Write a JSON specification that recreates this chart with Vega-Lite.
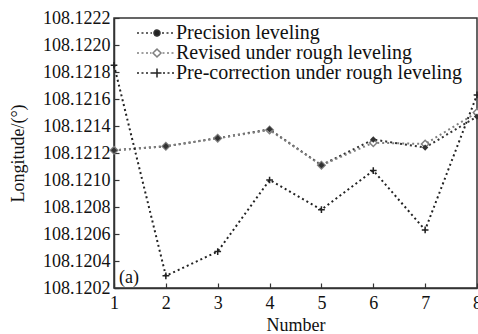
{
  "$schema": "https://vega.github.io/schema/vega-lite/v6.json",
  "width": 363,
  "height": 270,
  "autosize": "none",
  "padding": {"left": 114, "top": 18, "right": 1, "bottom": 46},
  "background": "white",
  "title": {"text": "(a)", "orient": "top", "anchor": "start", "frame": "group", "align": "left", "baseline": "middle", "offset": 0, "dx": 5, "dy": 287, "font": "Liberation Serif", "fontSize": 18, "fontWeight": "normal", "color": "#111"},
  "data": {"values": [
    {"number": 1, "series": "Precision leveling", "value": 108.12122},
    {"number": 2, "series": "Precision leveling", "value": 108.12125},
    {"number": 3, "series": "Precision leveling", "value": 108.12131},
    {"number": 4, "series": "Precision leveling", "value": 108.121375},
    {"number": 5, "series": "Precision leveling", "value": 108.12111},
    {"number": 6, "series": "Precision leveling", "value": 108.12130},
    {"number": 7, "series": "Precision leveling", "value": 108.12124},
    {"number": 8, "series": "Precision leveling", "value": 108.12147},
    {"number": 1, "series": "Revised under rough leveling", "value": 108.12122},
    {"number": 2, "series": "Revised under rough leveling", "value": 108.12125},
    {"number": 3, "series": "Revised under rough leveling", "value": 108.12131},
    {"number": 4, "series": "Revised under rough leveling", "value": 108.12137},
    {"number": 5, "series": "Revised under rough leveling", "value": 108.12111},
    {"number": 6, "series": "Revised under rough leveling", "value": 108.121276},
    {"number": 7, "series": "Revised under rough leveling", "value": 108.121267},
    {"number": 8, "series": "Revised under rough leveling", "value": 108.1215},
    {"number": 1, "series": "Pre-correction under rough leveling", "value": 108.12185},
    {"number": 2, "series": "Pre-correction under rough leveling", "value": 108.12029},
    {"number": 3, "series": "Pre-correction under rough leveling", "value": 108.12047},
    {"number": 4, "series": "Pre-correction under rough leveling", "value": 108.12100},
    {"number": 5, "series": "Pre-correction under rough leveling", "value": 108.12078},
    {"number": 6, "series": "Pre-correction under rough leveling", "value": 108.12107},
    {"number": 7, "series": "Pre-correction under rough leveling", "value": 108.12063},
    {"number": 8, "series": "Pre-correction under rough leveling", "value": 108.12163}
  ]},
  "encoding": {
    "x": {
      "field": "number", "type": "quantitative",
      "scale": {"domain": [1, 8], "nice": false, "zero": false},
      "axis": {"values": [1, 2, 3, 4, 5, 6, 7, 8], "format": "d", "title": "Number", "tickSize": -5, "labelPadding": 11, "titlePadding": 4, "labelFlush": false, "labelOverlap": false}
    },
    "y": {
      "field": "value", "type": "quantitative",
      "scale": {"domain": [108.1202, 108.1222], "nice": false, "zero": false},
      "axis": {"values": [108.1202, 108.1204, 108.1206, 108.1208, 108.121, 108.1212, 108.1214, 108.1216, 108.1218, 108.122, 108.1222], "format": ".4f", "title": "Longitude/(°)", "tickSize": -5, "labelPadding": 9, "titlePadding": 15, "labelOverlap": false}
    }
  },
  "layer": [
    {
      "mark": {"type": "line", "strokeDash": [2, 3], "strokeWidth": 2},
      "encoding": {
        "color": {
          "field": "series", "type": "nominal",
          "scale": {"domain": ["Precision leveling", "Revised under rough leveling", "Pre-correction under rough leveling"], "range": ["#333333", "#808080", "#222222"]},
          "legend": {
            "title": null,
            "orient": "none",
            "legendX": 33,
            "legendY": 5,
            "padding": 0,
            "symbolSize": 100,
            "symbolStrokeWidth": 1.5,
            "labelOffset": 9,
            "labelFontSize": 20,
            "labelFont": "Liberation Serif",
            "labelLimit": 400,
            "labelColor": "#111",
            "rowPadding": 0,
            "encode": {
              "symbols": {
                "update": {
                  "shape": {"signal": "datum.value === 'Precision leveling' ? 'M-4,0h0.4M-3.1,0h0.4M-2.2,0h0.4M-1.3,0h0.3M-0.6,0a0.6,0.6 0 1,0 1.2,0a0.6,0.6 0 1,0 -1.2,0M1,0h0.4M1.9,0h0.4M2.8,0h0.4' : datum.value === 'Revised under rough leveling' ? 'M-4,0h0.4M-3.1,0h0.4M-2.2,0h0.4M-1.4,0h0.3M0,-0.8L0.8,0L0,0.8L-0.8,0ZM1.1,0h0.4M2,0h0.4M2.9,0h0.4' : 'M-4,0h0.4M-3.1,0h0.4M-2.2,0h0.4M-1.3,0h0.4M-0.9,0H0.9M0,-0.9V0.9M1.2,0h0.4M2.1,0h0.4M3,0h0.4'"},
                  "fill": {"signal": "datum.value === 'Precision leveling' ? '#222222' : datum.value === 'Revised under rough leveling' ? '#ffffff' : 'transparent'"},
                  "strokeDash": {"value": [1, 0]},
                  "strokeWidth": {"value": 1.5}
                }
              }
            }
          }
        }
      }
    },
    {
      "transform": [{"filter": "datum.series === 'Pre-correction under rough leveling'"}],
      "mark": {"type": "point", "shape": "M-1,0H1M0,-1V1", "size": 45, "stroke": "#222222", "strokeWidth": 1.5, "filled": false, "opacity": 1}
    },
    {
      "transform": [{"filter": "datum.series === 'Revised under rough leveling'"}],
      "mark": {"type": "point", "shape": "diamond", "size": 55, "stroke": "#808080", "strokeWidth": 1.5, "fill": "#ffffff", "filled": true, "opacity": 1}
    },
    {
      "transform": [{"filter": "datum.series === 'Precision leveling'"}],
      "mark": {"type": "point", "shape": "diamond", "size": 40, "color": "#333333", "filled": true, "opacity": 1}
    }
  ],
  "config": {
    "font": "Liberation Serif",
    "view": {"stroke": "#333333", "strokeWidth": 1.5},
    "legend": {"labelFont": "Liberation Serif"},
    "axis": {
      "grid": false,
      "domainColor": "#333333",
      "domainWidth": 1.5,
      "tickColor": "#333333",
      "tickWidth": 1.2,
      "labelFont": "Liberation Serif",
      "labelFontSize": 18,
      "labelColor": "#111",
      "titleFont": "Liberation Serif",
      "titleFontSize": 18,
      "titleFontWeight": "normal",
      "titleColor": "#111"
    }
  }
}
